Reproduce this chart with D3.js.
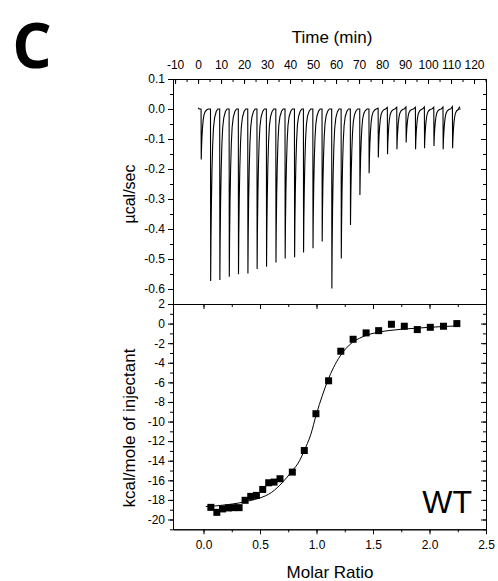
<!DOCTYPE html>
<html>
<head>
<meta charset="utf-8">
<script src="https://cdn.jsdelivr.net/npm/d3@7"></script>
<style>
body { margin: 0; background: #fff; }
text { font-family: "Liberation Sans", Arial, sans-serif; fill: #000; }
</style>
</head>
<body>
<svg width="498" height="581"></svg>
<script>
// raw ITC trace: injection times (min) and peak heights (ucal/sec)
let injTimes = [1.3, 5.4, 9.4, 13.5, 17.5, 21.6, 25.6, 29.7, 33.8, 37.8, 41.9, 45.8, 49.9, 53.9,
    58.1, 62.2, 66.2, 70.3, 74.3, 78.3, 82.3, 86.4, 90.4, 94.5, 98.4, 102.5, 106.5, 110.6];
let peakHeights = [-0.168, -0.573, -0.570, -0.559, -0.551, -0.548, -0.533, -0.526, -0.512, -0.498,
    -0.494, -0.478, -0.464, -0.442, -0.598, -0.498, -0.387, -0.287, -0.214, -0.162, -0.151,
    -0.134, -0.112, -0.134, -0.131, -0.123, -0.134, -0.131];
let preBump = [0, 0, 0, 0, 0, 0, 0, 0, 0, 0, 0, 0, 0, 0, 0, 0, 0, 0, 0, 0.003, 0.005,
    0.006, 0.007, 0.006, 0.007, 0.006, 0.007, 0.008];
// shape of one peak: minutes after injection, fraction of peak height
let spikeDt = [0, 0.08, 0.2, 0.4, 0.65, 0.95, 1.3, 1.8, 2.5, 3.2];
let spikeFrac = [0, 1, 0.78, 0.55, 0.36, 0.21, 0.11, 0.05, 0.015, 0];
let traceStart = 0, traceEnd = 113.9, traceEndValue = 0.008;

// integrated heats
let molarRatio = [0.065, 0.118, 0.168, 0.22, 0.265, 0.315, 0.368, 0.418, 0.468, 0.524, 0.577,
    0.624, 0.677, 0.786, 0.892, 0.995, 1.107, 1.215, 1.324, 1.439, 1.55, 1.663, 1.777, 1.892,
    2.007, 2.124, 2.242];
let heat = [-18.76, -19.27, -18.92, -18.82, -18.79, -18.79, -18.04, -17.64, -17.54, -16.93,
    -16.25, -16.18, -15.84, -15.16, -12.96, -9.2, -5.84, -2.82, -1.6, -0.95, -0.72, -0.07,
    -0.27, -0.61, -0.38, -0.27, 0.0];
let fitX = [0.02, 0.1, 0.2, 0.32, 0.4, 0.5, 0.6, 0.7, 0.78, 0.85, 0.89, 0.95, 1.0, 1.05, 1.1,
    1.15, 1.21, 1.26, 1.32, 1.38, 1.44, 1.5, 1.56, 1.65, 1.75, 1.88, 2.0, 2.12, 2.24];
let fitY = [-18.68, -18.62, -18.5, -18.3, -18.1, -17.8, -17.25, -16.2, -15.1, -14.0, -13.0,
    -11.3, -9.2, -7.4, -5.8, -4.5, -3.3, -2.55, -1.9, -1.5, -1.2, -1.0, -0.85, -0.7, -0.58,
    -0.47, -0.38, -0.3, -0.24];

let timeTicks = [-10, 0, 10, 20, 30, 40, 50, 60, 70, 80, 90, 100, 110, 120];
let powerTicks = [0.1, 0.0, -0.1, -0.2, -0.3, -0.4, -0.5, -0.6];
let heatTicks = [2, 0, -2, -4, -6, -8, -10, -12, -14, -16, -18, -20];
let ratioTicks = [0.0, 0.5, 1.0, 1.5, 2.0, 2.5];

let left = 173, right = 486, top1 = 79, mid = 304, bottom2 = 529.3;
let svg = d3.select('svg');

let xTime = d3.scaleLinear().domain([-10.9, 125.2]).range([left, right]);
let yPower = d3.scaleLinear().domain([-0.65, 0.1]).range([mid, top1]);
let xRatio = d3.scaleLinear().domain([-0.27, 2.5]).range([left, right]);
let yHeat = d3.scaleLinear().domain([-21, 2]).range([bottom2, mid]);

function minor(a, b, step) {
    return d3.range(a, b + step / 2, step);
}

function drawAxis(axis, tx, ty, labels) {
    let g = svg.append('g').attr('transform', 'translate(' + tx + ',' + ty + ')').call(axis);
    g.attr('font-family', null);
    g.select('.domain').attr('stroke', '#000').attr('stroke-width', 1);
    g.selectAll('.tick line').attr('stroke', '#000');
    g.selectAll('.tick text').style('font-size', '12px').attr('fill', '#000');
    if (!labels) g.selectAll('.tick text').remove();
    return g;
}

// --- top panel axes
drawAxis(d3.axisTop(xTime).tickValues(timeTicks).tickSize(-5).tickPadding(10).tickSizeOuter(0), 0, top1, true);
drawAxis(d3.axisTop(xTime).tickValues(minor(-10, 125, 5)).tickSize(-3).tickFormat('').tickSizeOuter(0), 0, top1);
drawAxis(d3.axisLeft(yPower).tickValues(powerTicks).tickSize(5).tickFormat(d3.format('.1f')).tickSizeOuter(0), left, 0, true);
drawAxis(d3.axisLeft(yPower).tickValues(minor(-0.65, 0.1, 0.05)).tickSize(3).tickFormat('').tickSizeOuter(0), left, 0);
drawAxis(d3.axisRight(yPower).tickValues(powerTicks).tickSize(-5).tickFormat('').tickSizeOuter(0), right, 0);
drawAxis(d3.axisRight(yPower).tickValues(minor(-0.65, 0.1, 0.05)).tickSize(-3).tickFormat('').tickSizeOuter(0), right, 0);

// --- bottom panel axes
drawAxis(d3.axisBottom(xRatio).tickValues(ratioTicks).tickSize(5).tickPadding(6).tickFormat(d3.format('.1f')).tickSizeOuter(0), 0, bottom2, true);
drawAxis(d3.axisBottom(xRatio).tickValues(minor(0, 2.5, 0.25)).tickSize(3).tickFormat('').tickSizeOuter(0), 0, bottom2);
drawAxis(d3.axisTop(xRatio).tickValues(ratioTicks).tickSize(-5).tickFormat('').tickSizeOuter(0), 0, mid);
drawAxis(d3.axisTop(xRatio).tickValues(minor(0, 2.5, 0.25)).tickSize(-3).tickFormat('').tickSizeOuter(0), 0, mid);
drawAxis(d3.axisLeft(yHeat).tickValues(heatTicks).tickSize(5).tickSizeOuter(0), left, 0, true);
drawAxis(d3.axisLeft(yHeat).tickValues(minor(-21, 2, 1)).tickSize(3).tickFormat('').tickSizeOuter(0), left, 0);
drawAxis(d3.axisRight(yHeat).tickValues(heatTicks).tickSize(-5).tickFormat('').tickSizeOuter(0), right, 0);
drawAxis(d3.axisRight(yHeat).tickValues(minor(-21, 2, 1)).tickSize(-3).tickFormat('').tickSizeOuter(0), right, 0);

// minus signs as plain hyphens like the original
svg.selectAll('.tick text').text(function() { return d3.select(this).text().replace('\u2212', '-'); });

// --- raw trace
let trace = [[traceStart, 0.004]];
injTimes.forEach(function(t, i) {
    trace.push([t - 0.8, 0]);
    trace.push([t - 0.02, preBump[i]]);
    spikeDt.forEach(function(dt, k) {
        trace.push([t + dt, peakHeights[i] * spikeFrac[k]]);
    });
});
trace.push([traceEnd - 0.6, 0.002]);
trace.push([traceEnd, traceEndValue]);

svg.append('path')
    .datum(trace)
    .attr('fill', 'none')
    .attr('stroke', '#000')
    .attr('stroke-width', 1.1)
    .attr('d', d3.line()
        .x(function(d) { return xTime(d[0]); })
        .y(function(d) { return yPower(d[1]); }));

// --- fit curve and points
svg.append('path')
    .datum(d3.zip(fitX, fitY))
    .attr('fill', 'none')
    .attr('stroke', '#000')
    .attr('stroke-width', 1)
    .attr('d', d3.line().curve(d3.curveMonotoneX)
        .x(function(d) { return xRatio(d[0]); })
        .y(function(d) { return yHeat(d[1]); }));

svg.append('g')
    .selectAll('rect')
    .data(d3.zip(molarRatio, heat))
    .join('rect')
    .attr('x', function(d) { return xRatio(d[0]) - 3.5; })
    .attr('y', function(d) { return yHeat(d[1]) - 3.5; })
    .attr('width', 7)
    .attr('height', 7)
    .attr('fill', '#000');

// --- titles
svg.append('text').attr('x', 332).attr('y', 43).attr('text-anchor', 'middle')
    .style('font-size', '17px').text('Time (min)');
svg.append('text').attr('x', 330).attr('y', 578).attr('text-anchor', 'middle')
    .style('font-size', '17px').text('Molar Ratio');
svg.append('text').attr('transform', 'translate(135,194) rotate(-90)').attr('text-anchor', 'middle')
    .style('font-size', '16px').text('\u00b5cal/sec');
svg.append('text').attr('transform', 'translate(135,428) rotate(-90)').attr('text-anchor', 'middle')
    .style('font-size', '17px').text('kcal/mole of injectant');
svg.append('text').attr('x', 472).attr('y', 513).attr('text-anchor', 'end')
    .style('font-size', '32px').text('WT');
svg.append('text').attr('x', 32).attr('y', 68).attr('text-anchor', 'middle')
    .style('font-family', '"Open Sans", sans-serif').style('font-weight', 'bold')
    .style('font-size', '62px').text('C');
</script>
</body>
</html>
